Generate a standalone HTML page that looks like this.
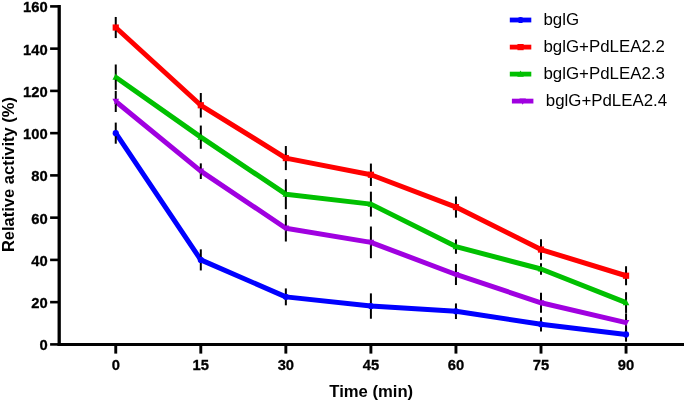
<!DOCTYPE html>
<html><head><meta charset="utf-8"><title>chart</title>
<style>
html,body{margin:0;padding:0;background:#fff;}
body{width:685px;height:402px;overflow:hidden;font-family:"Liberation Sans",sans-serif;}
svg{display:block;will-change:transform;opacity:0.999}
text{font-family:"Liberation Sans",sans-serif;}
.tick{font-weight:bold;font-size:15.3px;fill:#000;stroke:#000;stroke-width:0.3px}
.lab{font-weight:bold;font-size:16.3px;fill:#000}
.leg{font-size:16.5px;fill:#000}
</style></head><body>
<svg width="685" height="402" viewBox="0 0 685 402">
<rect width="685" height="402" fill="#fff"/>

<polyline points="115.75,133.15 200.80,259.90 285.85,296.87 370.90,306.06 455.95,311.23 541.00,324.33 626.05,334.47" fill="none" stroke="#0000ff" stroke-width="5" stroke-linejoin="round" stroke-linecap="butt"/>
<polyline points="115.75,27.52 200.80,105.26 285.85,158.08 370.90,174.77 455.95,207.09 541.00,249.55 626.05,275.74" fill="none" stroke="#ff0000" stroke-width="5" stroke-linejoin="round" stroke-linecap="butt"/>
<polyline points="115.75,77.17 200.80,137.16 285.85,194.20 370.90,204.13 455.95,246.59 541.00,268.98 626.05,302.57" fill="none" stroke="#00c000" stroke-width="5" stroke-linejoin="round" stroke-linecap="butt"/>
<polyline points="115.75,101.46 200.80,171.17 285.85,228.21 370.90,242.37 455.95,274.48 541.00,302.78 626.05,322.64" fill="none" stroke="#a000e0" stroke-width="5" stroke-linejoin="round" stroke-linecap="butt"/>
<line x1="115.75" x2="115.75" y1="122.59" y2="143.71" stroke="#000" stroke-width="2"/>
<line x1="200.80" x2="200.80" y1="249.34" y2="270.46" stroke="#000" stroke-width="2"/>
<line x1="285.85" x2="285.85" y1="288.42" y2="305.32" stroke="#000" stroke-width="2"/>
<line x1="370.90" x2="370.90" y1="293.38" y2="318.73" stroke="#000" stroke-width="2"/>
<line x1="455.95" x2="455.95" y1="303.42" y2="319.05" stroke="#000" stroke-width="2"/>
<line x1="541.00" x2="541.00" y1="317.15" y2="331.51" stroke="#000" stroke-width="2"/>
<line x1="626.05" x2="626.05" y1="327.29" y2="341.65" stroke="#000" stroke-width="2"/>
<line x1="115.75" x2="115.75" y1="16.96" y2="38.09" stroke="#000" stroke-width="2"/>
<line x1="200.80" x2="200.80" y1="93.01" y2="117.52" stroke="#000" stroke-width="2"/>
<line x1="285.85" x2="285.85" y1="146.04" y2="170.12" stroke="#000" stroke-width="2"/>
<line x1="370.90" x2="370.90" y1="163.57" y2="185.96" stroke="#000" stroke-width="2"/>
<line x1="455.95" x2="455.95" y1="196.52" y2="217.65" stroke="#000" stroke-width="2"/>
<line x1="541.00" x2="541.00" y1="239.30" y2="259.79" stroke="#000" stroke-width="2"/>
<line x1="626.05" x2="626.05" y1="266.24" y2="285.25" stroke="#000" stroke-width="2"/>
<line x1="115.75" x2="115.75" y1="64.49" y2="89.84" stroke="#000" stroke-width="2"/>
<line x1="200.80" x2="200.80" y1="125.55" y2="148.78" stroke="#000" stroke-width="2"/>
<line x1="285.85" x2="285.85" y1="179.20" y2="209.20" stroke="#000" stroke-width="2"/>
<line x1="370.90" x2="370.90" y1="191.67" y2="216.59" stroke="#000" stroke-width="2"/>
<line x1="455.95" x2="455.95" y1="239.41" y2="253.77" stroke="#000" stroke-width="2"/>
<line x1="541.00" x2="541.00" y1="263.28" y2="274.69" stroke="#000" stroke-width="2"/>
<line x1="626.05" x2="626.05" y1="292.22" y2="312.92" stroke="#000" stroke-width="2"/>
<line x1="115.75" x2="115.75" y1="90.90" y2="112.03" stroke="#000" stroke-width="2"/>
<line x1="200.80" x2="200.80" y1="163.36" y2="178.99" stroke="#000" stroke-width="2"/>
<line x1="285.85" x2="285.85" y1="214.90" y2="241.52" stroke="#000" stroke-width="2"/>
<line x1="370.90" x2="370.90" y1="226.52" y2="258.21" stroke="#000" stroke-width="2"/>
<line x1="455.95" x2="455.95" y1="263.91" y2="285.04" stroke="#000" stroke-width="2"/>
<line x1="541.00" x2="541.00" y1="292.85" y2="312.71" stroke="#000" stroke-width="2"/>
<line x1="626.05" x2="626.05" y1="313.35" y2="331.94" stroke="#000" stroke-width="2"/>
<circle cx="115.75" cy="133.15" r="3.1" fill="#0000ff"/>
<circle cx="200.80" cy="259.90" r="3.1" fill="#0000ff"/>
<circle cx="285.85" cy="296.87" r="3.1" fill="#0000ff"/>
<circle cx="370.90" cy="306.06" r="3.1" fill="#0000ff"/>
<circle cx="455.95" cy="311.23" r="3.1" fill="#0000ff"/>
<circle cx="541.00" cy="324.33" r="3.1" fill="#0000ff"/>
<circle cx="626.05" cy="334.47" r="3.1" fill="#0000ff"/>
<rect x="112.65" y="24.42" width="6.2" height="6.2" fill="#ff0000"/>
<rect x="197.70" y="102.16" width="6.2" height="6.2" fill="#ff0000"/>
<rect x="282.75" y="154.98" width="6.2" height="6.2" fill="#ff0000"/>
<rect x="367.80" y="171.67" width="6.2" height="6.2" fill="#ff0000"/>
<rect x="452.85" y="203.99" width="6.2" height="6.2" fill="#ff0000"/>
<rect x="537.90" y="246.45" width="6.2" height="6.2" fill="#ff0000"/>
<rect x="622.95" y="272.64" width="6.2" height="6.2" fill="#ff0000"/>
<polygon points="115.75,73.57 112.45,79.77 119.05,79.77" fill="#00c000"/>
<polygon points="200.80,133.56 197.50,139.76 204.10,139.76" fill="#00c000"/>
<polygon points="285.85,190.60 282.55,196.80 289.15,196.80" fill="#00c000"/>
<polygon points="370.90,200.53 367.60,206.73 374.20,206.73" fill="#00c000"/>
<polygon points="455.95,242.99 452.65,249.19 459.25,249.19" fill="#00c000"/>
<polygon points="541.00,265.38 537.70,271.58 544.30,271.58" fill="#00c000"/>
<polygon points="626.05,298.97 622.75,305.17 629.35,305.17" fill="#00c000"/>
<polygon points="115.75,105.06 112.45,98.86 119.05,98.86" fill="#a000e0"/>
<polygon points="200.80,174.77 197.50,168.57 204.10,168.57" fill="#a000e0"/>
<polygon points="285.85,231.81 282.55,225.61 289.15,225.61" fill="#a000e0"/>
<polygon points="370.90,245.97 367.60,239.77 374.20,239.77" fill="#a000e0"/>
<polygon points="455.95,278.08 452.65,271.88 459.25,271.88" fill="#a000e0"/>
<polygon points="541.00,306.38 537.70,300.18 544.30,300.18" fill="#a000e0"/>
<polygon points="626.05,326.24 622.75,320.04 629.35,320.04" fill="#a000e0"/>
<line x1="59.2" x2="59.2" y1="5.10" y2="345.90" stroke="#000" stroke-width="3.3"/>
<line x1="57.7" x2="684" y1="344.40" y2="344.40" stroke="#000" stroke-width="3.05"/>
<line x1="50.1" x2="59" y1="344.40" y2="344.40" stroke="#000" stroke-width="2.6"/>
<text class="tick" transform="translate(47.7,350.25) scale(0.965,1)" text-anchor="end">0</text>
<line x1="50.1" x2="59" y1="302.15" y2="302.15" stroke="#000" stroke-width="2.6"/>
<text class="tick" transform="translate(47.7,308.00) scale(0.965,1)" text-anchor="end">20</text>
<line x1="50.1" x2="59" y1="259.90" y2="259.90" stroke="#000" stroke-width="2.6"/>
<text class="tick" transform="translate(47.7,265.75) scale(0.965,1)" text-anchor="end">40</text>
<line x1="50.1" x2="59" y1="217.65" y2="217.65" stroke="#000" stroke-width="2.6"/>
<text class="tick" transform="translate(47.7,223.50) scale(0.965,1)" text-anchor="end">60</text>
<line x1="50.1" x2="59" y1="175.40" y2="175.40" stroke="#000" stroke-width="2.6"/>
<text class="tick" transform="translate(47.7,181.25) scale(0.965,1)" text-anchor="end">80</text>
<line x1="50.1" x2="59" y1="133.15" y2="133.15" stroke="#000" stroke-width="2.6"/>
<text class="tick" transform="translate(47.7,139.00) scale(0.965,1)" text-anchor="end">100</text>
<line x1="50.1" x2="59" y1="90.90" y2="90.90" stroke="#000" stroke-width="2.6"/>
<text class="tick" transform="translate(47.7,96.75) scale(0.965,1)" text-anchor="end">120</text>
<line x1="50.1" x2="59" y1="48.65" y2="48.65" stroke="#000" stroke-width="2.6"/>
<text class="tick" transform="translate(47.7,54.50) scale(0.965,1)" text-anchor="end">140</text>
<line x1="50.1" x2="59" y1="6.40" y2="6.40" stroke="#000" stroke-width="2.6"/>
<text class="tick" transform="translate(47.7,12.25) scale(0.965,1)" text-anchor="end">160</text>
<line x1="115.75" x2="115.75" y1="344.40" y2="353.60" stroke="#000" stroke-width="2.9"/>
<text class="tick" transform="translate(115.75,370.3) scale(0.965,1)" text-anchor="middle">0</text>
<line x1="200.80" x2="200.80" y1="344.40" y2="353.60" stroke="#000" stroke-width="2.9"/>
<text class="tick" transform="translate(200.80,370.3) scale(0.965,1)" text-anchor="middle">15</text>
<line x1="285.85" x2="285.85" y1="344.40" y2="353.60" stroke="#000" stroke-width="2.9"/>
<text class="tick" transform="translate(285.85,370.3) scale(0.965,1)" text-anchor="middle">30</text>
<line x1="370.90" x2="370.90" y1="344.40" y2="353.60" stroke="#000" stroke-width="2.9"/>
<text class="tick" transform="translate(370.90,370.3) scale(0.965,1)" text-anchor="middle">45</text>
<line x1="455.95" x2="455.95" y1="344.40" y2="353.60" stroke="#000" stroke-width="2.9"/>
<text class="tick" transform="translate(455.95,370.3) scale(0.965,1)" text-anchor="middle">60</text>
<line x1="541.00" x2="541.00" y1="344.40" y2="353.60" stroke="#000" stroke-width="2.9"/>
<text class="tick" transform="translate(541.00,370.3) scale(0.965,1)" text-anchor="middle">75</text>
<line x1="626.05" x2="626.05" y1="344.40" y2="353.60" stroke="#000" stroke-width="2.9"/>
<text class="tick" transform="translate(626.05,370.3) scale(0.965,1)" text-anchor="middle">90</text>
<text class="lab" transform="translate(371.2,396.6) scale(1.022,1)" text-anchor="middle">Time (min)</text>
<text class="lab" transform="translate(13.9,174.6) rotate(-90) scale(1.013,1)" text-anchor="middle">Relative activity (%)</text>
<line x1="509.8" x2="531.3" y1="20.0" y2="20.0" stroke="#0000ff" stroke-width="4.8"/>
<circle cx="520.55" cy="20.00" r="3.1" fill="#0000ff"/>
<text class="leg" transform="translate(543.5,25.20) scale(1.022,1)">bglG</text>
<line x1="509.8" x2="531.3" y1="47.1" y2="47.1" stroke="#ff0000" stroke-width="4.8"/>
<rect x="517.45" y="44.00" width="6.2" height="6.2" fill="#ff0000"/>
<text class="leg" transform="translate(543.5,52.30) scale(1.022,1)">bglG+PdLEA2.2</text>
<line x1="509.8" x2="531.3" y1="74.1" y2="74.1" stroke="#00c000" stroke-width="4.8"/>
<polygon points="520.55,70.50 517.25,76.70 523.85,76.70" fill="#00c000"/>
<text class="leg" transform="translate(543.5,79.30) scale(1.022,1)">bglG+PdLEA2.3</text>
<line x1="511.9" x2="533.4" y1="101.1" y2="101.1" stroke="#a000e0" stroke-width="4.8"/>
<polygon points="522.65,104.70 519.35,98.50 525.95,98.50" fill="#a000e0"/>
<text class="leg" transform="translate(545.8,106.30) scale(1.022,1)">bglG+PdLEA2.4</text>
</svg></body></html>
